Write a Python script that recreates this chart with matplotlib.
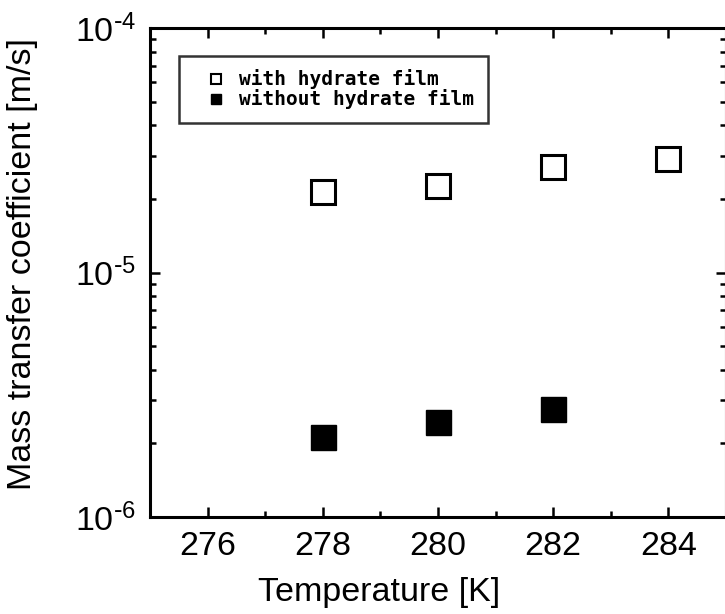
"""温度に対する物質移動係数（ハイドレート膜の有無）をプロットする."""

import matplotlib

matplotlib.use("Agg")
import matplotlib.pyplot as plt  # グラフ描画
from matplotlib.lines import Line2D
from matplotlib.ticker import FuncFormatter, LogLocator, MultipleLocator, NullFormatter
import numpy as np

# データ
temp_with = [278, 280, 282, 284]
k_with = [2.13e-5, 2.25e-5, 2.69e-5, 2.90e-5]
temp_without = [278, 280, 282]
k_without = [2.13e-6, 2.44e-6, 2.77e-6]

label_with = "with hydrate film"
label_without = "without hydrate film"
xlabel = "Temperature [K]"
ylabel = "Mass transfer coefficient [m/s]"


def log_label(val, pos):
    """10^-n 形式のラベル（ハイフンのマイナス）."""
    e = int(round(np.log10(val)))
    if e < 0:
        return r"$10^{\text{-}%d}$" % (-e)
    return r"$10^{%d}$" % e


def main():
    plt.rcParams["font.family"] = ["Liberation Sans", "DejaVu Sans"]
    plt.rcParams["mathtext.default"] = "regular"

    fig = plt.figure(figsize=(7.25, 6.14), dpi=100)
    ax = fig.add_axes([150 / 725, 97 / 614, 576 / 725, 489 / 614])

    ax.plot(temp_with, k_with, linestyle="none", marker="s", markersize=17,
            markerfacecolor="white", markeredgecolor="black", markeredgewidth=2.2)
    ax.plot(temp_without, k_without, linestyle="none", marker="s", markersize=18,
            markerfacecolor="black", markeredgecolor="black")

    ax.set_yscale("log")
    ax.set_xlim(275, 285)
    ax.set_ylim(1e-6, 1e-4)

    ax.xaxis.set_major_locator(MultipleLocator(2))
    ax.xaxis.set_minor_locator(MultipleLocator(1))
    ax.yaxis.set_major_locator(LogLocator(base=10))
    ax.yaxis.set_major_formatter(FuncFormatter(log_label))
    ax.yaxis.set_minor_locator(LogLocator(base=10, subs=range(2, 10)))
    ax.yaxis.set_minor_formatter(NullFormatter())

    ax.tick_params(which="both", direction="in", top=True, right=True,
                   width=1.8, labelsize=24.5, colors="black")
    ax.tick_params(which="major", length=7, pad=10)
    ax.tick_params(which="minor", length=4)
    for sp in ax.spines.values():
        sp.set_linewidth(2.2)

    # 軸ラベル（元図に合わせて位置を調整）
    fig.text(379 / 725, 1 - 592 / 614, xlabel, fontsize=24.5,
             ha="center", va="center")
    fig.text(23 / 725, 1 - 264 / 614, ylabel, fontsize=24.5,
             ha="center", va="center", rotation=90)

    # 凡例
    handles = [
        Line2D([], [], linestyle="none", marker="s", markersize=7,
               markerfacecolor="white", markeredgecolor="black",
               markeredgewidth=1.5),
        Line2D([], [], linestyle="none", marker="s", markersize=7,
               markerfacecolor="black", markeredgecolor="black"),
    ]
    leg = ax.legend(handles, [label_with, label_without], loc="upper left",
                    bbox_to_anchor=(0.05, 0.943), frameon=True, fancybox=False,
                    edgecolor="black", borderpad=0.7, labelspacing=0.0,
                    handlelength=2.4, handletextpad=0.0, borderaxespad=0,
                    prop={"family": "DejaVu Sans Mono", "weight": "bold",
                          "size": 14})
    leg.get_frame().set_linewidth(1.8)

    fig.savefig("out.png", dpi=100)


if __name__ == "__main__":
    main()
